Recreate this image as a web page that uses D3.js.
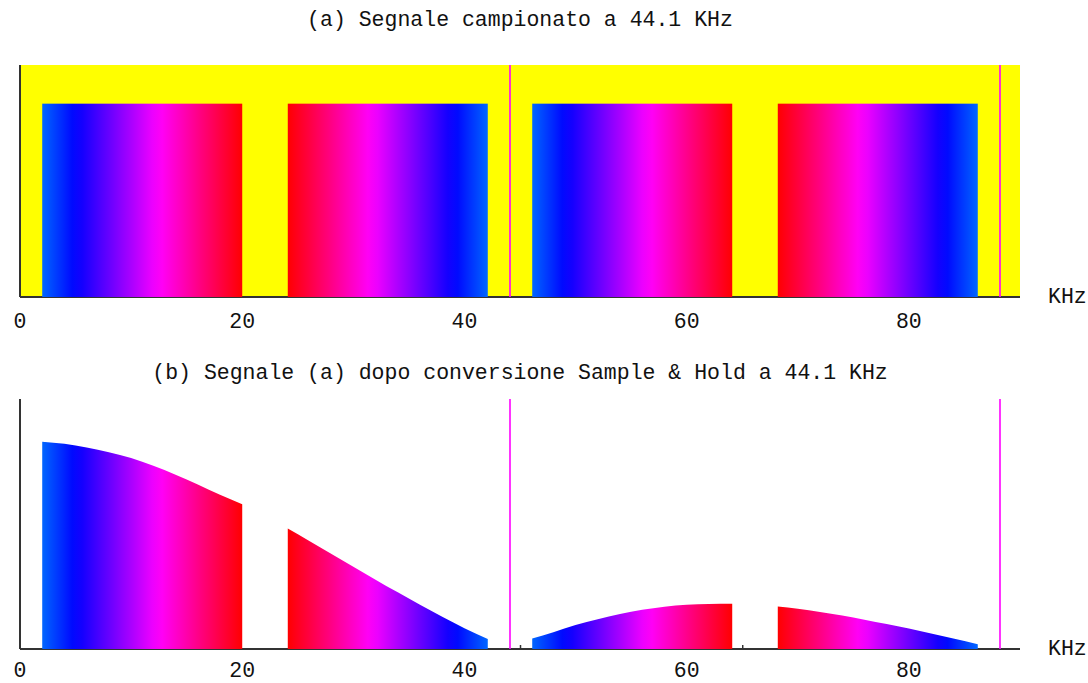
<!DOCTYPE html>
<html>
<head>
<meta charset="utf-8">
<script src="https://cdn.jsdelivr.net/npm/d3@7"></script>
<style>
  body { margin: 0; background: #fff; }
  svg text { font-family: "Liberation Mono", "DejaVu Sans Mono", monospace; font-size: 21.5px; fill: #111; }
</style>
</head>
<body>
<svg id="chart"></svg>
<script>
// titoli e assi
const titleA = "(a) Segnale campionato a 44.1 KHz";
const titleB = "(b) Segnale (a) dopo conversione Sample & Hold a 44.1 KHz";
const unitLabel = "KHz";
const tickLabels = [0, 20, 40, 60, 80];
const minorTicks = [5, 10, 15, 25, 30, 35, 45, 50, 55, 65, 70, 75, 85];
const samplingLines = [44.1, 88.2];

// bande del segnale campionato (KHz)
const bandStart = [2, 24.1, 46.1, 68.2];
const bandEnd = [20, 42.1, 64.1, 86.2];
const bandRising = [true, false, true, false];   // blu -> rosso
const bandLevel = [1, 1, 1, 1];

// inviluppo dopo Sample & Hold
const shFreq1 = [2, 4, 6, 8, 10, 12, 14, 16, 18, 20];
const shAmp1 = [0.995, 0.985, 0.967, 0.945, 0.917, 0.88, 0.837, 0.79, 0.74, 0.695];
const shFreq2 = [24.1, 26, 28, 30, 32, 34, 36, 38, 40, 42.1];
const shAmp2 = [0.578, 0.52, 0.457, 0.395, 0.333, 0.272, 0.212, 0.155, 0.10, 0.048];
const shFreq3 = [46.1, 48, 50, 52, 54, 56, 58, 60, 62, 64.1];
const shAmp3 = [0.05, 0.08, 0.115, 0.143, 0.168, 0.188, 0.203, 0.212, 0.216, 0.217];
const shFreq4 = [68.2, 70, 72, 74, 76, 78, 80, 82, 84, 86.2];
const shAmp4 = [0.204, 0.193, 0.178, 0.161, 0.141, 0.12, 0.098, 0.074, 0.05, 0.023];

const shFreq = [shFreq1, shFreq2, shFreq3, shFreq4];
const shAmp = [shAmp1, shAmp2, shAmp3, shAmp4];

const width = 1088, height = 683;
const svg = d3.select("#chart").attr("width", width).attr("height", height);
const defs = svg.append("defs");

const x = d3.scaleLinear().domain([0, 90]).range([20, 1020]);
const yA = d3.scaleLinear().domain([0, 1.2]).range([297, 65]);
const yB = d3.scaleLinear().domain([0, 1.2]).range([649, 399]);

// gradienti tonalità (hue 216 -> 360)
bandStart.forEach((s, i) => {
  const g = defs.append("linearGradient")
    .attr("id", "grad" + i)
    .attr("gradientUnits", "userSpaceOnUse")
    .attr("x1", x(s)).attr("x2", x(bandEnd[i]))
    .attr("y1", 0).attr("y2", 0);
  d3.range(0, 1.0001, 0.05).forEach(t => {
    const h = 216 + 144 * (bandRising[i] ? t : 1 - t);
    g.append("stop").attr("offset", t).attr("stop-color", d3.hsl(h, 1, 0.5).formatHex());
  });
});

function drawAxes(g, y, withTicks) {
  g.append("line")
    .attr("x1", x(0)).attr("x2", x(0))
    .attr("y1", y(0)).attr("y2", y.range()[1])
    .attr("stroke", "#333").attr("stroke-width", 2);
  const ax = g.append("g")
    .attr("transform", `translate(0,${y(0)})`)
    .call(d3.axisBottom(x).tickValues(withTicks ? minorTicks : []).tickSize(-4).tickFormat(""));
  ax.select(".domain").attr("stroke", "#333").attr("stroke-width", 2)
    .attr("d", `M${x(0)},0H${x(90)}`);
  ax.selectAll(".tick line").attr("stroke", "#333").attr("stroke-width", 1.5);
}

function drawLabels(g, y, title, titleY, labelY) {
  g.selectAll(".lbl")
    .data(tickLabels)
    .join("text")
    .attr("class", "lbl")
    .attr("x", d => x(d))
    .attr("y", labelY)
    .attr("text-anchor", "middle")
    .text(d => d);
  g.append("text")
    .attr("x", 1048).attr("y", y(0) + 6)
    .text(unitLabel);
  g.append("text")
    .attr("x", (x(0) + x(90)) / 2)
    .attr("y", titleY)
    .attr("text-anchor", "middle")
    .text(title);
}

function drawLines(g, y) {
  g.selectAll(".fs")
    .data(samplingLines)
    .join("line")
    .attr("class", "fs")
    .attr("x1", d => x(d)).attr("x2", d => x(d))
    .attr("y1", y(0)).attr("y2", y.range()[1])
    .attr("stroke", "#ff00ff").attr("stroke-width", 1.6);
}

// (a) segnale campionato
const gA = svg.append("g");
gA.append("rect")
  .attr("x", x(0)).attr("y", yA(1.2))
  .attr("width", x(90) - x(0)).attr("height", yA(0) - yA(1.2))
  .attr("fill", "#ffff00");
drawAxes(gA, yA, false);
gA.selectAll(".band")
  .data(bandStart)
  .join("rect")
  .attr("class", "band")
  .attr("x", d => x(d))
  .attr("y", (d, i) => yA(bandLevel[i]))
  .attr("width", (d, i) => x(bandEnd[i]) - x(d))
  .attr("height", (d, i) => yA(0) - yA(bandLevel[i]))
  .attr("fill", (d, i) => `url(#grad${i})`);
drawLines(gA, yA);
drawLabels(gA, yA, titleA, 26, 328);

// (b) dopo Sample & Hold
const gB = svg.append("g");
drawAxes(gB, yB, true);
const area = d3.area()
  .x(d => x(d[0]))
  .y0(yB(0))
  .y1(d => yB(d[1]))
  .curve(d3.curveMonotoneX);
gB.selectAll(".env")
  .data(shFreq.map((f, i) => f.map((v, j) => [v, shAmp[i][j]])))
  .join("path")
  .attr("class", "env")
  .attr("d", area)
  .attr("fill", (d, i) => `url(#grad${i})`);
drawLines(gB, yB);
drawLabels(gB, yB, titleB, 379, 677);
</script>
</body>
</html>
